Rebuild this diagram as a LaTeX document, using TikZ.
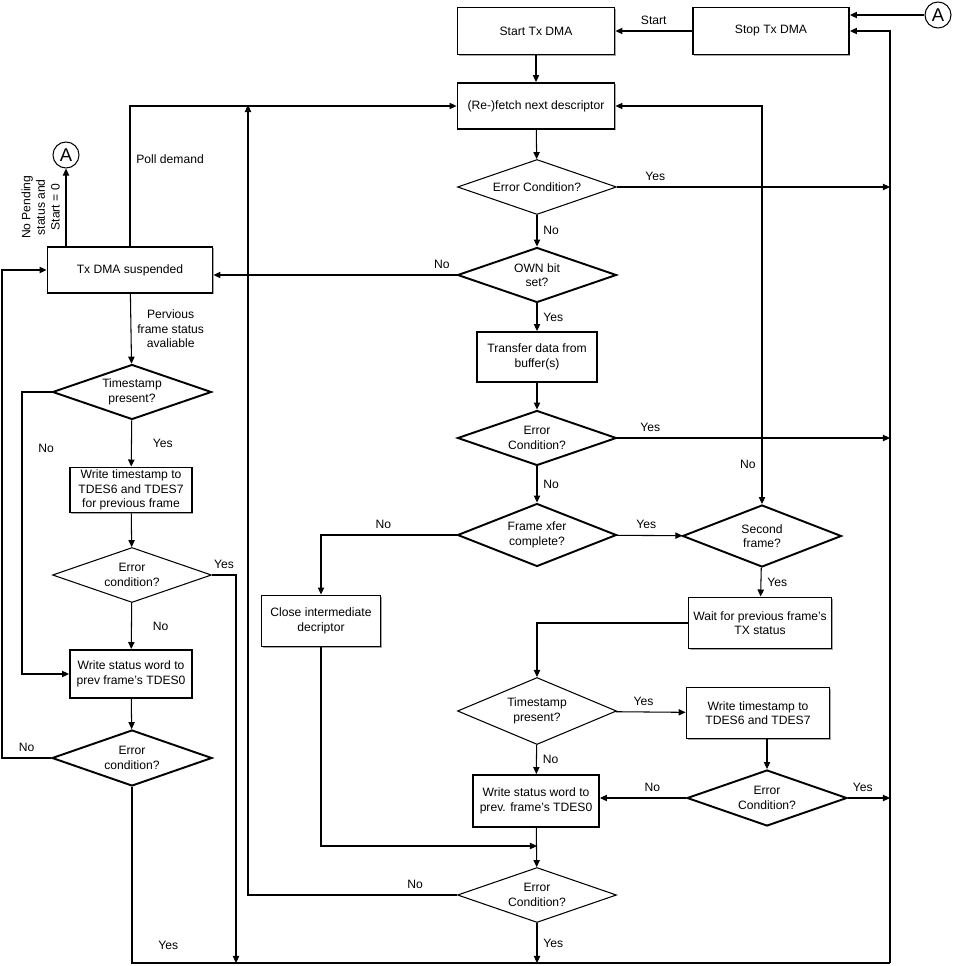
\documentclass[tikz,border=0pt]{standalone}
\usepackage{fontspec}
\setmainfont{Liberation Sans}
\usepackage{tikz}
\usetikzlibrary{shapes.geometric, arrows.meta, shadows}

\begin{document}
\begin{tikzpicture}[
    x = 0.02cm, y = -0.02cm,
    font = \fontsize{6.9}{8.3}\selectfont,
    B/.style = {rectangle, draw, line width=1.1pt, fill=white, align=center,
                inner sep=1pt,
                drop shadow={shadow xshift=0.6pt, shadow yshift=-0.6pt, fill=gray!70, opacity=1}},
    D/.style = {diamond, draw, line width=0.6pt, fill=white, align=center, inner sep=0pt,
                aspect=2.9, minimum width=3.18cm, minimum height=1.1cm},
    DT/.style = {D, line width=1.1pt},
    C/.style = {circle, draw, line width=0.6pt, inner sep=0pt, minimum size=0.52cm,
                font=\fontsize{10.5}{12}\selectfont},
    every path/.style = {line width=0.6pt}
    ]
    % main column
    \node[B, minimum width=3.14cm, minimum height=0.94cm] (start) at (536,31) {Start Tx DMA};
    \node[B, minimum width=3.12cm, minimum height=0.94cm] (stop) at (771,31) {Stop Tx DMA};
    \node[B, minimum width=3.14cm, minimum height=0.92cm] (fetch) at (536,106) {(Re-)fetch next descriptor};
    \node[D] (err1) at (537,187) {Error Condition?};
    \node[DT] (own) at (537,275) {OWN bit\\set?};
    \node[B, minimum width=2.4cm, minimum height=1.0cm] (xfer) at (537,357) {Transfer data from\\buffer(s)};
    \node[DT] (err2) at (537,438) {Error\\Condition?};
    \node[DT, minimum height=1.26cm] (frame) at (537,535) {Frame xfer\\complete?};
    \node[DT, minimum height=1.24cm] (second) at (762,536) {Second\\frame?};
    \node[B, minimum width=2.38cm, minimum height=1.02cm] (close) at (321,621) {Close intermediate\\decriptor};
    \node[B, minimum width=2.86cm, minimum height=1.02cm] (wait) at (760,623) {Wait for previous frame's\\TX status};
    \node[D, minimum height=1.34cm] (tsR) at (537,711) {Timestamp\\present?};
    \node[B, minimum width=2.86cm, minimum height=1.02cm] (tswR) at (758,713) {Write timestamp to\\TDES6 and TDES7};
    \node[DT, minimum width=3.2cm, minimum height=1.12cm] (errR) at (767,798) {Error\\Condition?};
    \node[B, minimum width=2.52cm, minimum height=1.04cm] (wswR) at (536,801) {Write status word to\\prev. frame's TDES0};
    \node[D] (errB) at (537,895) {Error\\Condition?};
    \node[C] (aR) at (938,15) {A};

    % left column
    \node[B, minimum width=3.3cm, minimum height=0.92cm] (susp) at (130,270) {Tx DMA suspended};
    \node[C] (aL) at (66,155) {A};
    \node[DT] (tsL) at (132,392) {Timestamp\\present?};
    \node[B, minimum width=2.44cm, minimum height=0.9cm] (tswL) at (131,490) {Write timestamp to\\TDES6 and TDES7\\for previous frame};
    \node[D] (errL1) at (132,575) {Error\\condition?};
    \node[B, minimum width=2.44cm, minimum height=0.96cm] (wswL) at (131,674) {Write status word to\\prev frame's TDES0};
    \node[DT, minimum width=3.2cm, minimum height=1.12cm] (errL2) at (132,758) {Error\\condition?};

    % helper points
    \coordinate (railT) at (890,31);
    \coordinate (railB) at (890,963);
    \coordinate (r1) at (890,187);
    \coordinate (r2) at (890,438);
    \coordinate (r3) at (890,798);
    \coordinate (bot) at (537,963);
    \coordinate (jL) at (236,963);
    \coordinate (jT) at (248,105);
    \coordinate (jB) at (537,846);
    \coordinate (lx) at (2,758);
    \coordinate (ts1L) at (22,392);

    \begin{scope}[-{Triangle[length=4pt, width=3.6pt]}]
        \draw (stop) -- node[above]{Start} (start);
        \draw (aR.west) -- (aR.west -| stop.east);
        \draw (railB) -- (railT) -- (stop.east);
        \draw (start) -- (fetch);
        \draw (fetch) -- (err1);
        \draw (err1) -- node[right]{No} (own);
        \draw (err1.east) -- node[above, pos=0.14]{Yes} (r1);
        \draw (own) -- node[right]{Yes} (xfer);
        \draw (own.west) -- node[above, pos=0.06]{No} (own.west -| susp.east);
        \draw (xfer) -- (err2);
        \draw (err2.east) -- node[above, pos=0.12]{Yes} (r2);
        \draw (err2) -- node[right]{No} (frame);
        \draw (frame.west) -| node[above, pos=0.27]{No} (close.north);
        \draw (frame) -- node[above, pos=0.45]{Yes} (second);
        \draw[{Triangle[length=4pt, width=3.6pt]}-{Triangle[length=4pt, width=3.6pt]}]
            (fetch.east) -| node[left, pos=0.95]{No} (second.north);
        \draw (second) -- node[right]{Yes} (wait);
        \draw (wait.west) -| (tsR.north);
        \draw (tsR) -- node[above, pos=0.4]{Yes} (tswR);
        \draw (tsR) -- node[right]{No} (wswR);
        \draw (tswR.south -| errR.north) -- (errR);
        \draw (errR.west) -- node[above, pos=0.39]{No} (errR.west -| wswR.east);
        \draw (errR.east) -- node[above, pos=0.35]{Yes} (r3);
        \draw (wswR) -- (errB);
        \draw (close.south) |- (jB);
        \draw (errB.west) -| node[above, pos=0.1]{No} (jT);
        \draw (errB) -- node[right]{Yes} (bot);

        \draw (susp.north -| aL) -- node[midway, sloped, above, align=center]{No Pending\\status and\\Start = 0} (aL);
        \draw (susp.north) |- node[pos=0.31, right]{Poll demand} (fetch.west);
        \draw (susp) -- node[midway, right, align=center]{Pervious\\frame status\\avaliable} (tsL);
        \draw (tsL) -- node[right=3mm]{Yes} (tswL);
        \draw (tsL.west) -- (ts1L) |- node[pos=0.1, right=2mm]{No} (wswL.west);
        \draw (tswL) -- (errL1);
        \draw (errL1) -- node[right=3mm]{No} (wswL);
        \draw (errL1.east) -| node[above, pos=0.25]{Yes} (jL);
        \draw (wswL) -- (errL2);
        \draw (errL2.west) -- node[above]{No} (lx) |- (susp.west);
    \end{scope}
    \draw (errL2.south) |- node[pos=0.45, right=4mm]{Yes} (railB);

    \useasboundingbox (0,0) rectangle (953,966);
\end{tikzpicture}
\end{document}
